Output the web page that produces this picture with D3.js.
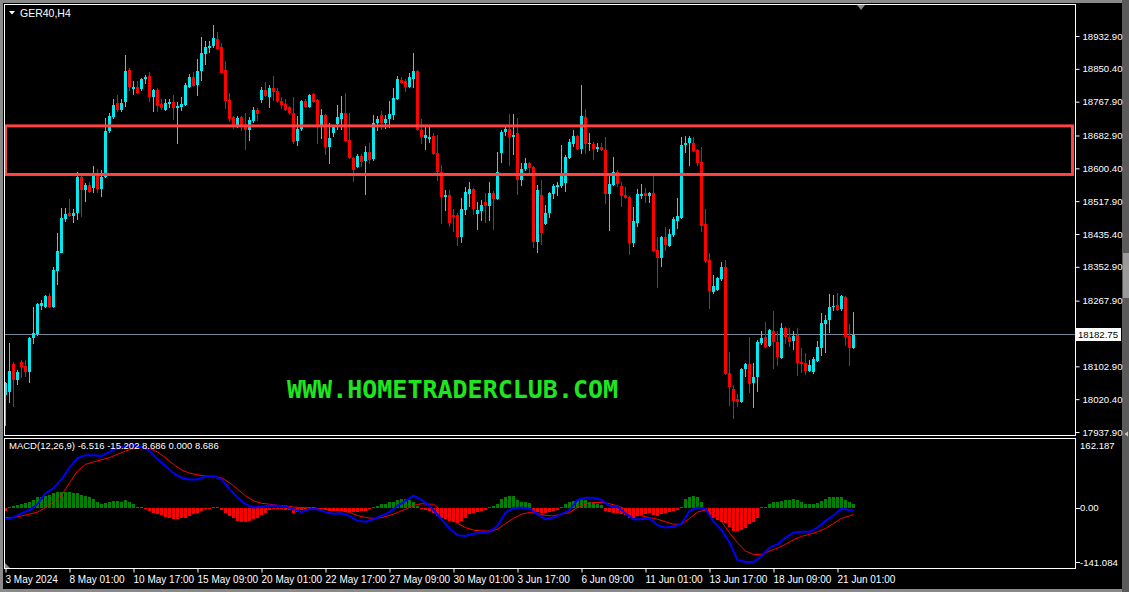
<!DOCTYPE html>
<html>
<head>
<meta charset="utf-8">
<script src="https://cdnjs.cloudflare.com/ajax/libs/d3/7.8.5/d3.min.js"></script>
<style>
  body { margin: 0; background: #000; overflow: hidden; }
  text { font-family: "Liberation Sans", Arial, sans-serif; font-size: 10px; fill: #fff; }
</style>
</head>
<body>
<svg id="chart"></svg>
<script>
// GER40 H4 candles, 3 May 2024 09:00 .. 21 Jun 2024 17:00
const opens = [18030,18038,18108,18068,18113,18103,18088,18174,18184,18254,18252,18279,18252,18342,18387,18473,18488,18480,18488,18578,18546,18558,18551,18581,18548,18578,18694,18729,18764,18747,18767,18847,18799,18804,18799,18825,18832,18779,18797,18762,18747,18762,18767,18752,18754,18759,18804,18830,18809,18845,18887,18902,18907,18925,18905,18847,18772,18729,18704,18729,18711,18696,18719,18747,18772,18797,18779,18802,18794,18769,18762,18754,18739,18669,18699,18769,18754,18787,18772,18704,18734,18654,18689,18711,18724,18739,18671,18626,18603,18631,18618,18641,18623,18714,18734,18714,18724,18734,18774,18822,18819,18804,18825,18845,18696,18676,18674,18681,18639,18591,18528,18533,18483,18483,18427,18495,18536,18548,18485,18493,18515,18505,18538,18523,18639,18691,18699,18679,18689,18571,18598,18613,18603,18415,18533,18460,18488,18536,18553,18556,18563,18626,18661,18681,18649,18729,18661,18661,18649,18654,18646,18536,18558,18591,18556,18533,18528,18412,18463,18530,18538,18530,18538,18395,18375,18427,18405,18432,18468,18475,18659,18664,18664,18646,18616,18460,18370,18289,18294,18322,18352,18086,18045,18020,18013,18096,18108,18061,18076,18161,18176,18153,18191,18164,18123,18199,18176,18166,18181,18113,18111,18091,18088,18116,18148,18209,18219,18252,18257,18247,18277,18179,18148];
const highs = [18063,18161,18113,18093,18118,18118,18176,18252,18262,18269,18282,18287,18352,18437,18500,18500,18523,18498,18591,18581,18563,18566,18606,18598,18596,18727,18739,18774,18784,18774,18885,18852,18819,18819,18827,18835,18842,18799,18802,18774,18774,18774,18784,18767,18779,18814,18837,18842,18875,18930,18920,18920,18960,18943,18915,18870,18789,18732,18732,18731,18739,18729,18754,18752,18804,18817,18809,18832,18802,18779,18774,18757,18779,18732,18772,18774,18787,18789,18774,18749,18737,18714,18709,18759,18782,18789,18739,18628,18636,18636,18656,18664,18734,18732,18744,18734,18769,18802,18832,18830,18825,18840,18890,18847,18724,18704,18704,18689,18684,18608,18546,18546,18498,18488,18525,18553,18566,18551,18515,18520,18538,18566,18543,18641,18696,18704,18737,18737,18727,18613,18626,18616,18606,18558,18571,18508,18541,18561,18566,18659,18634,18674,18696,18684,18809,18749,18689,18666,18664,18664,18679,18581,18628,18596,18566,18553,18530,18503,18548,18561,18551,18541,18581,18427,18430,18453,18448,18478,18525,18679,18681,18681,18679,18649,18654,18498,18387,18332,18327,18365,18370,18138,18056,18033,18098,18111,18176,18111,18169,18191,18214,18196,18242,18191,18211,18201,18199,18191,18199,18148,18136,18118,18126,18166,18236,18231,18284,18282,18287,18282,18279,18209,18239];
const lows = [17952,18010,18000,18056,18073,18076,18061,18158,18179,18244,18249,18249,18249,18307,18387,18465,18478,18463,18470,18478,18515,18538,18538,18538,18528,18576,18689,18724,18742,18742,18754,18794,18784,18787,18794,18812,18767,18742,18742,18747,18744,18752,18721,18661,18744,18757,18802,18804,18782,18819,18860,18890,18902,18897,18837,18749,18716,18699,18701,18694,18646,18669,18714,18719,18764,18779,18752,18769,18764,18749,18744,18734,18661,18656,18694,18752,18752,18764,18661,18674,18634,18611,18679,18696,18696,18666,18623,18566,18601,18603,18533,18611,18618,18694,18696,18699,18701,18721,18772,18812,18792,18802,18802,18694,18661,18646,18664,18634,18568,18460,18493,18453,18440,18405,18412,18483,18503,18483,18445,18468,18463,18468,18445,18520,18613,18681,18606,18634,18533,18556,18593,18588,18400,18387,18407,18458,18475,18523,18530,18551,18541,18623,18654,18646,18636,18636,18644,18621,18641,18644,18510,18443,18556,18553,18503,18523,18382,18402,18453,18523,18513,18513,18390,18299,18352,18392,18402,18427,18448,18473,18639,18606,18641,18606,18440,18362,18247,18284,18292,18317,18081,18003,17970,18000,18010,18076,18035,17998,18038,18156,18148,18151,18096,18103,18121,18158,18151,18143,18078,18086,18081,18088,18083,18113,18128,18136,18186,18242,18242,18242,18153,18103,18146];
const closes = [18061,18091,18068,18088,18101,18088,18174,18186,18259,18262,18279,18252,18345,18392,18475,18485,18480,18488,18578,18546,18558,18541,18581,18548,18578,18694,18732,18759,18747,18764,18845,18804,18804,18789,18825,18830,18779,18797,18757,18752,18764,18767,18752,18757,18762,18809,18830,18807,18845,18890,18905,18907,18928,18900,18840,18769,18724,18704,18727,18706,18696,18721,18747,18737,18797,18782,18802,18792,18769,18759,18747,18739,18666,18699,18769,18754,18784,18767,18704,18734,18654,18676,18704,18729,18739,18669,18626,18596,18631,18616,18641,18621,18714,18724,18714,18724,18737,18777,18825,18814,18804,18830,18845,18696,18679,18684,18679,18636,18591,18528,18533,18463,18478,18427,18498,18541,18548,18498,18495,18508,18505,18538,18523,18591,18691,18699,18679,18684,18571,18598,18613,18601,18415,18546,18437,18488,18538,18556,18558,18581,18628,18666,18681,18649,18732,18661,18664,18649,18654,18646,18536,18561,18591,18561,18530,18525,18412,18468,18536,18536,18530,18538,18392,18375,18427,18407,18435,18473,18480,18659,18664,18676,18644,18613,18455,18367,18292,18304,18324,18352,18083,18051,18015,18013,18096,18108,18058,18076,18164,18174,18151,18194,18164,18126,18199,18176,18164,18179,18111,18108,18091,18106,18121,18151,18211,18219,18252,18254,18244,18279,18176,18148,18182.75];

// time axis: one label every 16 bars
const timeTickIdx = [0,16,32,48,64,80,96,112,128,144,160,176,192,208];
const timeLabels = ["3 May 2024","8 May 01:00","10 May 17:00","15 May 09:00","20 May 01:00","22 May 17:00","27 May 09:00","30 May 01:00","3 Jun 17:00","6 Jun 09:00","11 Jun 01:00","13 Jun 17:00","18 Jun 09:00","21 Jun 01:00"];

const priceTicks = [18932.90,18850.40,18767.90,18682.90,18600.40,18517.90,18435.40,18352.90,18267.90,18102.90,18020.40,17937.90];
const lastPrice = 18182.75;
const zone = [18585, 18707];   // red box

// MACD(12,26,9)
const macdIdx = [0,2,4,6,8,10,12,14,16,18,20,22,24,26,28,30,32,34,36,38,40,42,44,46,48,50,52,54,56,58,60,62,64,66,68,70,72,74,76,78,80,82,84,86,88,90,92,94,96,98,100,102,104,106,107,109,111,113,115,117,119,121,123,125,127,129,131,133,135,137,139,141,143,145,147,149,151,153,155,157,159,161,163,165,167,169,171,173,175,177,179,181,183,185,187,189,191,193,195,197,199,201,203,205,207,209,211,212];
const macdMain = [-27,-23,-13,-5,9,35,47,68,96,119,126,126,124,134,143,148,150,146,136,116,100,83,72,68,68,75,76,68,45,25,9,1,3,6,5,3,-3,-10,-3,-3,-10,-14,-13,-19,-31,-33,-27,-19,-10,5,17,29,19,5,-5,-27,-49,-65,-67,-61,-60,-57,-43,-11,0,1,-2,-15,-27,-23,-15,-5,19,24,24,19,5,3,-13,-27,-27,-25,-41,-47,-45,-37,-7,1,-2,-33,-53,-83,-124,-129,-129,-115,-95,-87,-71,-59,-57,-57,-47,-31,-18,-2,-5,-6.516];
const macdSignal = [-23,-23,-19,-15,-10,1,13,30,60,88,104,110,115,120,128,136,142,144,142,134,120,104,91,83,79,76,75,72,60,45,29,17,11,9,6,5,2,1,0,-1,-3,-5,-7,-11,-18,-23,-25,-23,-18,-11,-3,6,10,9,9,-7,-23,-37,-47,-53,-55,-55,-51,-37,-25,-15,-11,-13,-18,-19,-15,-11,1,9,13,13,10,5,-3,-13,-19,-23,-27,-33,-39,-39,-25,-10,-5,-15,-33,-59,-83,-103,-111,-111,-103,-96,-87,-76,-68,-63,-57,-49,-37,-25,-19,-15.202];
const macdHist = [-7,3,5,6,9,11,14,19,25,27,29,30,35,37,38,38,38,35,35,30,29,26,21,13,9,11,14,17,17,15,18,13,9,3,1,-3,-7,-11,-15,-18,-21,-25,-27,-27,-25,-23,-19,-15,-11,-7,-3,-1,2,2,-5,-13,-19,-25,-31,-33,-33,-31,-27,-23,-18,-11,-5,-2,-2,-3,-5,-5,-13,-10,-5,-3,2,2,-2,-3,-5,-7,-7,-7,-7,-10,-10,-10,-10,-7,-7,-3,3,5,9,9,13,14,19,21,21,19,14,5,-3,-5,-7,-11,-19,-23,-27,-31,-33,-37,-31,-23,-15,-13,-10,-7,-5,3,5,9,21,27,29,29,19,14,13,11,-7,-10,-13,-11,-10,-7,-5,3,9,14,17,18,22,19,14,11,9,6,-7,-10,-11,-13,-15,-18,-23,-23,-19,-18,-15,-13,-18,-19,-15,-13,-10,-7,-5,3,21,27,29,25,13,-5,-18,-25,-29,-33,-37,-45,-55,-55,-53,-47,-39,-33,-23,1,3,9,13,14,17,19,19,22,19,13,9,9,9,11,17,22,25,26,26,25,19,13,8.686];
const macdTicks = [162.187, 0, -141.084];
const macdLabels = ["162.187", "0.00", "-141.084"];

const width = 1129, height = 592;
const bull = '#00e8f0', bear = '#ff0000';

const svg = d3.select('#chart')
    .attr('width', width)
    .attr('height', height)
    .style('display', 'block');

svg.append('rect').attr('width', width).attr('height', height).attr('fill', '#000');

// window edges + scrollbar strip
svg.append('rect').attr('x', 0).attr('y', 0).attr('width', width).attr('height', 3).attr('fill', '#8a8a8a');
svg.append('rect').attr('x', 0).attr('y', 0).attr('width', 3).attr('height', height).attr('fill', '#8a8a8a');
svg.append('rect').attr('x', 0).attr('y', 589).attr('width', width).attr('height', 3).attr('fill', '#8a8a8a');
svg.append('rect').attr('x', 1122).attr('y', 0).attr('width', 7).attr('height', height).attr('fill', '#5a5a5a');
svg.append('rect').attr('x', 1123).attr('y', 253).attr('width', 6).attr('height', 45).attr('fill', '#9a9a9a');
svg.append('path').attr('d', 'M1124.5,434 L1128,431.5 L1128,436.5 Z').attr('fill', '#c8c8c8');

const x = d3.scaleLinear().domain([0, closes.length - 1]).range([5, 853]);
const y = d3.scaleLinear().domain([17937.9, 18932.9]).range([432, 36]);
const ym = d3.scaleLinear().domain([-141.084, 162.187]).range([567, 440]);

const defs = svg.append('defs');
defs.append('clipPath').attr('id', 'clipMain')
    .append('rect').attr('x', 5).attr('y', 5).attr('width', 1070).attr('height', 430);
defs.append('clipPath').attr('id', 'clipMacd')
    .append('rect').attr('x', 5).attr('y', 439).attr('width', 1070).attr('height', 129);

// ---------- main pane ----------
const main = svg.append('g').attr('clip-path', 'url(#clipMain)');

const py = Math.floor(y(lastPrice)) + 0.5;
main.append('line')
    .attr('x1', 5).attr('x2', 1075).attr('y1', py).attr('y2', py)
    .attr('stroke', '#778899').attr('stroke-width', 1);

const bars = closes.map((c, i) => ({ i, o: opens[i], h: highs[i], l: lows[i], c }));

const candle = main.append('g').attr('shape-rendering', 'crispEdges')
    .selectAll('g').data(bars).join('g');

candle.append('line')
    .attr('x1', d => x(d.i) + 0.5).attr('x2', d => x(d.i) + 0.5)
    .attr('y1', d => y(d.h)).attr('y2', d => y(d.l))
    .attr('stroke', d => d.c >= d.o ? bull : bear);

candle.append('rect')
    .attr('x', d => x(d.i) - 1)
    .attr('width', 3)
    .attr('y', d => y(Math.max(d.o, d.c)))
    .attr('height', d => Math.max(1, Math.abs(y(d.o) - y(d.c))))
    .attr('fill', d => d.c >= d.o ? bull : bear);

// red box
main.append('rect')
    .attr('x', 5.5).attr('width', 1067)
    .attr('y', y(zone[1])).attr('height', y(zone[0]) - y(zone[1]))
    .attr('fill', 'none').attr('stroke', '#ff4444').attr('stroke-width', 3);

main.append('text')
    .attr('x', 287).attr('y', 398)
    .style('font-family', '"DejaVu Sans Mono", monospace')
    .style('font-size', '25px').style('font-weight', 'bold')
    .style('fill', '#1ee61e')
    .text('WWW.HOMETRADERCLUB.COM');

// shift marker
svg.append('path').attr('d', 'M857,5 L865,5 L861,10 Z').attr('fill', '#8a8a8a');

// title
svg.append('path').attr('d', 'M9,11 L15,11 L12,14.5 Z').attr('fill', '#fff');
svg.append('text').attr('x', 20).attr('y', 16.5).style('font-size', '10.5px').text('GER40,H4');

// price axis
const axisY = svg.append('g')
    .attr('transform', 'translate(1075.5,0)')
    .call(d3.axisRight(y).tickValues(priceTicks).tickSize(4).tickPadding(3).tickFormat(d3.format('.2f')));
axisY.select('.domain').remove();
axisY.selectAll('line').attr('stroke', '#fff');
axisY.selectAll('text').attr('fill', '#fff').style('font-size', '9.6px')
    .style('font-family', '"Liberation Sans", Arial, sans-serif');

// last price tag
svg.append('rect').attr('x', 1076).attr('y', py - 6.5).attr('width', 45).attr('height', 13).attr('fill', '#fff');
svg.append('text').attr('x', 1078).attr('y', py + 3.5).style('fill', '#000').style('font-size', '9.6px')
    .text(d3.format('.2f')(lastPrice));

// ---------- MACD pane ----------
const macd = svg.append('g').attr('clip-path', 'url(#clipMacd)');
const y0 = ym(0);

macd.append('g').attr('shape-rendering', 'crispEdges')
    .selectAll('rect').data(macdHist).join('rect')
    .attr('x', (d, i) => x(i) - 1)
    .attr('width', 3)
    .attr('y', d => Math.min(ym(d), y0))
    .attr('height', d => Math.max(1, Math.abs(ym(d) - y0)))
    .attr('fill', d => d >= 0 ? '#008000' : '#ff0000');

const sigLine = d3.line().x(d => x(d[0]) + 0.5).y(d => ym(d[1]));
macd.append('path')
    .attr('d', sigLine(macdIdx.map((k, j) => [k, macdSignal[j]])))
    .attr('fill', 'none').attr('stroke', '#ff0000').attr('stroke-width', 1);
macd.append('path')
    .attr('d', sigLine(macdIdx.map((k, j) => [k, macdMain[j]])))
    .attr('fill', 'none').attr('stroke', '#0000ff').attr('stroke-width', 2);

svg.append('text').attr('x', 9).attr('y', 449).style('font-size', '9.5px')
    .text('MACD(12,26,9) -6.516 -15.202 8.686 0.000 8.686');

// MACD scale labels (end labels kept inside the pane, as MT4 does)
macdTicks.forEach((v, k) => {
    const ty = Math.min(Math.max(ym(v), 445), 562);
    if (v !== macdTicks[0]) {
        svg.append('line').attr('x1', 1076).attr('x2', 1080).attr('y1', Math.round(ty) + 0.5).attr('y2', Math.round(ty) + 0.5)
            .attr('stroke', '#fff');
    }
    svg.append('text').attr('x', 1080).attr('y', ty + 3.5).style('font-size', '9.6px').text(macdLabels[k]);
});

svg.append('path').attr('d', 'M5,563 L5,568 L10,568 Z').attr('fill', '#8a8a8a');

// pane frames
svg.append('rect').attr('x', 4.5).attr('y', 4.5).attr('width', 1071).attr('height', 431)
    .attr('fill', 'none').attr('stroke', '#fff');
svg.append('rect').attr('x', 4.5).attr('y', 438.5).attr('width', 1071).attr('height', 130)
    .attr('fill', 'none').attr('stroke', '#fff');

// time axis
const axisX = svg.append('g')
    .attr('transform', 'translate(0,568.5)')
    .call(d3.axisBottom(x).tickValues(timeTickIdx).tickSize(4).tickPadding(3)
        .tickFormat((d, k) => timeLabels[k]));
axisX.select('.domain').remove();
axisX.selectAll('.tick line').attr('stroke', '#fff').attr('transform', 'translate(0.5,0)');
axisX.selectAll('text').attr('fill', '#fff').attr('text-anchor', 'start').attr('dx', '0')
    .style('font-size', '10px').style('font-family', '"Liberation Sans", Arial, sans-serif');
</script>
</body>
</html>
